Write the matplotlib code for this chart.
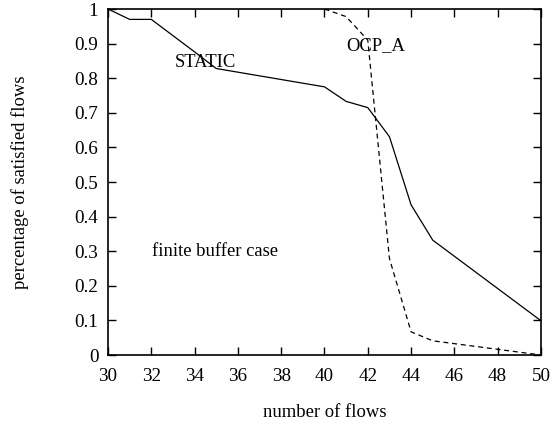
import matplotlib
matplotlib.use("Agg")
import matplotlib.pyplot as plt

# Fraction of satisfied flows vs. number of flows (finite buffer case)
static_x = [30, 31, 32, 33, 34, 35, 40, 41, 42, 43, 44, 45, 50]
static_y = [1.0, 0.97, 0.97, 0.923, 0.876, 0.828, 0.775, 0.733, 0.715, 0.631, 0.434, 0.332, 0.099]

ocp_x = [40, 41, 42, 43, 44, 45, 50]
ocp_y = [1.0, 0.978, 0.91, 0.279, 0.067, 0.041, 0.0]

x_ticks = [30, 32, 34, 36, 38, 40, 42, 44, 46, 48, 50]
y_ticks = [0, 0.1, 0.2, 0.3, 0.4, 0.5, 0.6, 0.7, 0.8, 0.9, 1]
y_tick_labels = ["0", "0.1", "0.2", "0.3", "0.4", "0.5", "0.6", "0.7", "0.8", "0.9", "1"]

plt.rcParams["font.family"] = ["Liberation Serif", "DejaVu Serif"]

fig = plt.figure(figsize=(5.52, 4.25), dpi=100)
ax = fig.add_axes([0.1957, 0.1647, 0.7843, 0.8141])

ax.plot(static_x, static_y, color="black", lw=0.9, linestyle="-")
ax.plot(ocp_x, ocp_y, color="black", lw=0.9, linestyle=(0, (4, 3)))

ax.text(34.5, 0.845, "STATIC", fontsize=13.4, ha="center", va="center")
ax.text(42.38, 0.893, "OCP_A", fontsize=13.4, ha="center", va="center")
ax.text(34.92, 0.298, "finite buffer case", fontsize=13.4, ha="center", va="center")

ax.set_xlim(30, 50)
ax.set_ylim(0, 1)
ax.set_xticks(x_ticks)
ax.set_xticklabels([str(t) for t in x_ticks])
ax.set_yticks(y_ticks)
ax.set_yticklabels(y_tick_labels)
ax.tick_params(direction="in", length=6, width=1, top=True, right=True,
               labelsize=13.8)
ax.tick_params(axis="x", pad=9)
ax.tick_params(axis="y", pad=7)
for s in ax.spines.values():
    s.set_linewidth(1.2)

ax.set_xlabel("number of flows", fontsize=13.4, labelpad=14)
ax.set_ylabel("percentage of satisfied flows", fontsize=13.4, labelpad=33)

fig.savefig("out.png", dpi=100)
